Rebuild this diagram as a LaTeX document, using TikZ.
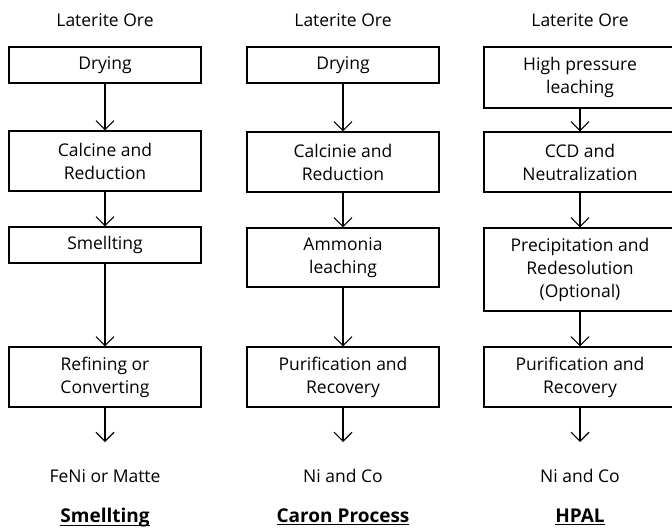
\documentclass[tikz,border=0pt]{standalone}
\usepackage{amsmath}
\usepackage{fontspec}
\setmainfont{Open Sans}
\usepackage{tikz}
\usetikzlibrary{arrows,arrows.meta,positioning}

\tikzset{
  stepbox/.style={draw, line width=1.1pt, minimum width=192pt, align=center, inner sep=2pt},
  flow/.style={-{Straight Barb[length=9pt,width=18pt,line width=1.1pt]}, line width=1.1pt},
  lbl/.style={align=center},
  ttl/.style={font=\fontsize{19}{23}\selectfont\bfseries}
}

\begin{document}
\begin{tikzpicture}[x=1pt,y=-1pt,font=\fontsize{17.5}{23}\selectfont]
\useasboundingbox (0,0) rectangle (672,529);
% Smellting
\node[lbl] (ore1) at (105,20) {Laterite Ore};
\node[stepbox, minimum height=36pt] (dry1) at (105,65) {Drying};
\node[stepbox, minimum height=60pt] (cal1) at (105,161) {Calcine and\\Reduction};
\node[stepbox, minimum height=36pt] (sme1) at (105,245) {Smellting};
\node[stepbox, minimum height=60pt] (ref1) at (105,377) {Refining or\\Converting};
\coordinate (end1) at (105,442);
\node[lbl] (out1) at (105,476) {FeNi or Matte};
\node[ttl] (tit1) at (105,517) {\underline{\smash[b]{Smellting}}};
\draw[flow] (dry1) -- (cal1);
\draw[flow] (cal1) -- (sme1);
\draw[flow] (sme1) -- (ref1);
\draw[flow] (ref1) -- (end1);
% Caron Process
\node[lbl] (ore2) at (343,20) {Laterite Ore};
\node[stepbox, minimum height=36pt] (dry2) at (343,65) {Drying};
\node[stepbox, minimum height=60pt] (cal2) at (343,162) {Calcinie and\\Reduction};
\node[stepbox, minimum height=59pt] (amm2) at (343,257.5) {Ammonia\\leaching};
\node[stepbox, minimum height=60pt] (pur2) at (343,377) {Purification and\\Recovery};
\coordinate (end2) at (343,442);
\node[lbl] (out2) at (343,476) {Ni and Co};
\node[ttl] (tit2) at (343,517) {\underline{\smash[b]{Caron Process}}};
\draw[flow] (dry2) -- (cal2);
\draw[flow] (cal2) -- (amm2);
\draw[flow] (amm2) -- (pur2);
\draw[flow] (pur2) -- (end2);
% HPAL
\node[lbl] (ore3) at (580,20) {Laterite Ore};
\node[stepbox, minimum height=61pt] (hpl3) at (580,77.5) {High pressure\\leaching};
\node[stepbox, minimum height=60pt] (ccd3) at (580,162) {CCD and\\Neutralization};
\node[stepbox, minimum height=83pt] (pre3) at (580,269.5) {Precipitation and\\Redesolution\\(Optional)};
\node[stepbox, minimum height=60pt] (pur3) at (580,377) {Purification and\\Recovery};
\coordinate (end3) at (580,442);
\node[lbl] (out3) at (580,476) {Ni and Co};
\node[ttl] (tit3) at (580,517) {\underline{\smash[b]{HPAL}}};
\draw[flow] (hpl3) -- (ccd3);
\draw[flow] (ccd3) -- (pre3);
\draw[flow] (pre3) -- (pur3);
\draw[flow] (pur3) -- (end3);
\end{tikzpicture}
\end{document}
